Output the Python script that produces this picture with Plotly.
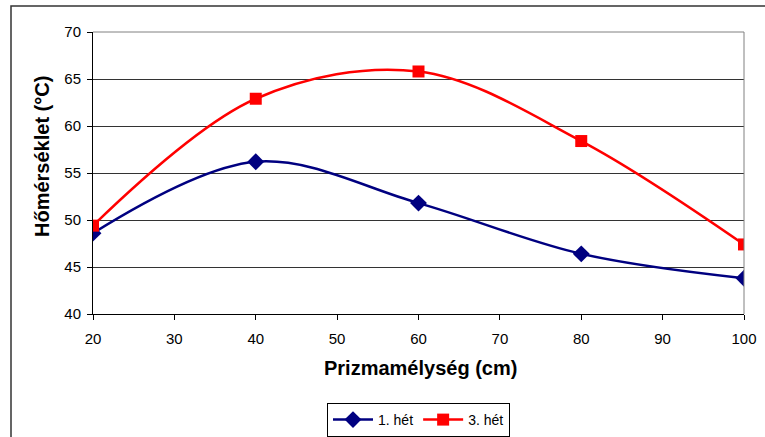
import plotly.graph_objects as go

depth = [20, 40, 60, 80, 100]
week1 = [48.6, 56.2, 51.8, 46.4, 43.8]
week3 = [49.4, 62.9, 65.8, 58.4, 47.4]
y_ticks = [40, 45, 50, 55, 60, 65, 70]
x_ticks = [20, 30, 40, 50, 60, 70, 80, 90, 100]

W, H = 765, 437
L, R, T, B = 93, 21, 32, 123
pw, ph = W - L - R, H - T - B

def px_x(p):
    return (p - L) / pw

def px_y(p):
    return (H - B - p) / ph

FONT = "Liberation Sans, Arial, sans-serif"

fig = go.Figure()
fig.add_trace(go.Scatter(
    x=depth, y=week1, name="1. hét", mode="lines+markers",
    line=dict(color="#000080", width=2.5, shape="spline", smoothing=1.0),
    marker=dict(symbol="diamond", size=13, color="#000080"),
))
fig.add_trace(go.Scatter(
    x=depth, y=week3, name="3. hét", mode="lines+markers",
    line=dict(color="#FF0000", width=2.5, shape="spline", smoothing=1.0),
    marker=dict(symbol="square", size=12, color="#FF0000"),
))

fig.update_layout(
    width=W, height=H,
    margin=dict(l=L, r=R, t=T, b=B, autoexpand=False),
    paper_bgcolor="white", plot_bgcolor="white",
    font=dict(family=FONT, size=15, color="black"),
    showlegend=True,
    legend=dict(
        orientation="h", x=0.5, xanchor="center",
        y=px_y(403), yanchor="top",
        bordercolor="black", borderwidth=1,
        font=dict(size=14, family=FONT),
        itemwidth=40, tracegroupgap=0,
    ),
    xaxis=dict(
        range=[20, 100], tickvals=x_ticks, ticks="outside", ticklen=5,
        tickcolor="black", showline=True, linecolor="black", linewidth=1,
        showgrid=False, zeroline=False, mirror=False,
        tickfont=dict(size=15), ticklabelstandoff=6,
    ),
    yaxis=dict(
        range=[40, 70], tickvals=y_ticks, ticks="outside", ticklen=5,
        tickcolor="black", showline=True, linecolor="black", linewidth=1,
        showgrid=True, gridcolor="#333333", gridwidth=1, zeroline=False,
        tickfont=dict(size=15), ticklabelstandoff=3,
    ),
)

# plot-area right/top border in gray
fig.add_shape(type="line", xref="paper", yref="paper", x0=1, x1=1, y0=0, y1=1,
              line=dict(color="#808080", width=1))
fig.add_shape(type="line", xref="paper", yref="paper", x0=0, x1=1, y0=1, y1=1,
              line=dict(color="#808080", width=1))

# outer chart border
fig.add_shape(type="rect", xref="paper", yref="paper",
              x0=px_x(11), x1=px_x(780), y0=px_y(460), y1=px_y(6),
              line=dict(color="#333333", width=1.5), layer="below")

fig.add_annotation(text="<b>Hőmérséklet (°C)</b>", xref="paper", yref="paper",
                   x=px_x(42), y=px_y(157), textangle=-90, showarrow=False,
                   font=dict(size=20, family=FONT), xanchor="center", yanchor="middle")
fig.add_annotation(text="<b>Prizmamélység (cm)</b>", xref="paper", yref="paper",
                   x=px_x(420), y=px_y(368), showarrow=False,
                   font=dict(size=20, family=FONT), xanchor="center", yanchor="middle")

fig.write_html("out.html")
